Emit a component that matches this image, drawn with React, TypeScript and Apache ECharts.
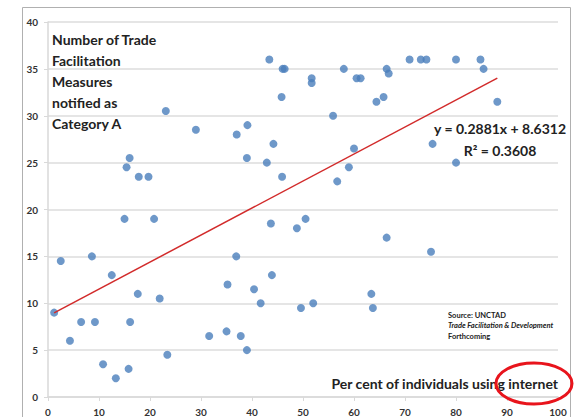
import React, { useEffect, useRef } from "react";
import * as echarts from "echarts";

const internetUse: number[] = [
  1.2, 2.5, 4.3, 6.5, 8.6, 9.2, 10.8, 12.5, 13.3, 15.0, 15.8, 16.1, 17.6, 20.8, 21.9, 23.4,
  23.1, 29.0, 16.0, 15.4, 17.8, 19.7, 43.4, 46.0, 46.4, 51.7, 51.7, 58.0, 60.5, 61.3, 66.4, 66.8,
  45.8, 64.4, 65.8, 55.9, 39.1, 37.0, 44.2, 39.0, 42.9, 60.0, 59.0, 45.9, 56.7, 70.9, 73.1, 74.2,
  80.0, 84.8, 85.4, 88.1, 75.4, 80.0, 43.7, 48.8, 50.5, 66.4, 36.9, 35.2, 43.9, 40.4, 41.7, 49.6,
  52.0, 63.4, 63.7, 31.6, 35.0, 37.8, 39.0, 75.1,
];
const measuresA: number[] = [
  9, 14.5, 6, 8, 15, 8, 3.5, 13, 2, 19, 3, 8, 11, 19, 10.5, 4.5,
  30.5, 28.5, 25.5, 24.5, 23.5, 23.5, 36, 35, 35, 34, 33.5, 35, 34, 34, 35, 34.5,
  32, 31.5, 32, 30, 29, 28, 27, 25.5, 25, 26.5, 24.5, 23.5, 23, 36, 36, 36,
  36, 36, 35, 31.5, 27, 25, 18.5, 18, 19, 17, 15, 12, 13, 11.5, 10, 9.5,
  10, 11, 9.5, 6.5, 7, 6.5, 5, 15.5,
];
const trendSlope = 0.2881;
const trendIntercept = 8.6312;
const equationText = "y = 0.2881x + 8.6312";
const r2Text = "R² = 0.3608";
const yTitleLines = ["Number of Trade", "Facilitation", "Measures", "notified as", "Category A"];
const xTitle = "Per cent of individuals using internet";
const sourceLines = ["Source: UNCTAD", "Trade Facilitation & Development", "Forthcoming"];

const FONT = "Lato, 'Open Sans', sans-serif";

export default function App() {
  const ref = useRef<HTMLDivElement>(null);
  useEffect(() => {
    if (!ref.current) return;
    const chart = echarts.init(ref.current, undefined, { renderer: "svg" });
    const points = internetUse.map((x, i) => [x, measuresA[i]]);
    const xMin = Math.min(...internetUse);
    const xMax = Math.max(...internetUse);
    const trend = [
      [xMin, trendSlope * xMin + trendIntercept],
      [xMax, trendSlope * xMax + trendIntercept],
    ];
    chart.setOption({
      animation: false,
      backgroundColor: "#ffffff",
      textStyle: { fontFamily: FONT },
      grid: { left: 48, right: 17, top: 22, bottom: 20, containLabel: false },
      xAxis: {
        type: "value",
        min: 0,
        max: 100,
        interval: 10,
        axisLine: { show: true, lineStyle: { color: "#d9d9d9", width: 1.5 } },
        axisTick: { show: true, length: 4, lineStyle: { color: "#d9d9d9" } },
        axisLabel: { color: "#333", fontSize: 10, fontWeight: "bold", margin: 10, fontFamily: FONT },
        splitLine: { show: false },
      },
      yAxis: {
        type: "value",
        min: 0,
        max: 40,
        interval: 5,
        axisLine: { show: true, lineStyle: { color: "#d9d9d9", width: 1.5 } },
        axisTick: { show: true, length: 4, lineStyle: { color: "#d9d9d9" } },
        axisLabel: { color: "#333", fontSize: 10, fontWeight: "bold", margin: 10, fontFamily: FONT },
        splitLine: { show: true, lineStyle: { color: "#dcdcdc", width: 1.5 } },
      },
      series: [
        {
          type: "scatter",
          data: points,
          symbolSize: 8,
          itemStyle: { color: "#4a7ebb" },
          z: 3,
        },
        {
          type: "line",
          data: trend,
          showSymbol: false,
          symbol: "none",
          lineStyle: { color: "#d22b2b", width: 1.5 },
          z: 4,
        },
      ],
      graphic: [
        {
          type: "rect",
          shape: { x: 22.5, y: 7.5, width: 548, height: 430 },
          style: { fill: "none", stroke: "#b0b0b0", lineWidth: 1 },
          silent: true,
        },
        ...yTitleLines.map((t, i) => ({
          type: "text",
          x: 52,
          y: 39 + i * 21.2,
          style: {
            text: t,
            fill: "#222",
            font: `bold 14px ${FONT}`,
            textVerticalAlign: "middle",
          },
        })),
        {
          type: "text",
          x: 500,
          y: 128,
          style: { text: equationText, fill: "#222", font: `bold 14px ${FONT}`, textAlign: "center", textVerticalAlign: "middle" },
        },
        {
          type: "text",
          x: 500,
          y: 150,
          style: { text: r2Text, fill: "#222", font: `bold 14px ${FONT}`, textAlign: "center", textVerticalAlign: "middle" },
        },
        {
          type: "text",
          x: 448,
          y: 315,
          style: { text: sourceLines[0], fill: "#222", font: `bold 7.5px ${FONT}`, textVerticalAlign: "middle" },
        },
        {
          type: "text",
          x: 448,
          y: 325.5,
          style: { text: sourceLines[1], fill: "#222", font: `italic bold 7.5px ${FONT}`, textVerticalAlign: "middle" },
        },
        {
          type: "text",
          x: 448,
          y: 336,
          style: { text: sourceLines[2], fill: "#222", font: `bold 7.5px ${FONT}`, textVerticalAlign: "middle" },
        },
        {
          type: "text",
          x: 558,
          y: 383,
          style: { text: xTitle, fill: "#222", font: `bold 14px ${FONT}`, textAlign: "right", textVerticalAlign: "middle" },
        },
        {
          type: "ellipse",
          shape: { cx: 534, cy: 383.5, rx: 38, ry: 20.5 },
          style: { fill: "none", stroke: "#e8141c", lineWidth: 3 },
          z: 10,
        },
      ],
    });
    return () => chart.dispose();
  }, []);
  return <div ref={ref} style={{ width: 575, height: 417, position: "fixed", left: 0, top: 0 }} />;
}
